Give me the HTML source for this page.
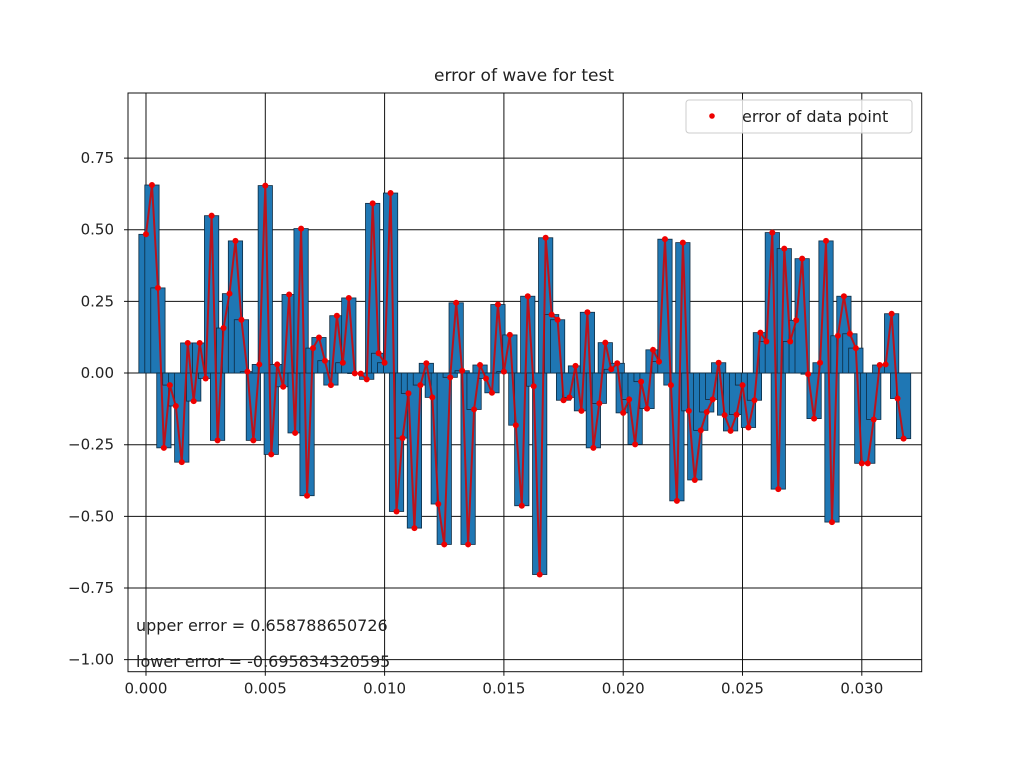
<!DOCTYPE html>
<html><head><meta charset="utf-8"><style>
body{margin:0;background:#fff}
svg text{font-family:"DejaVu Sans","Liberation Sans",sans-serif;fill:#222}
</style></head><body>
<svg id="chart" width="1024" height="768" viewBox="0 0 1024 768" xmlns="http://www.w3.org/2000/svg">
<rect width="1024" height="768" fill="#fff"/>
<text x="524" y="81" font-size="17" text-anchor="middle">error of wave for test</text>
<g id="grid"></g>
<g id="bars"></g>
<g id="line"></g>
<g id="axes"></g>
<text x="136" y="631" font-size="16">upper error = 0.658788650726</text>
<text x="136" y="667" font-size="16">lower error = -0.695834320595</text>
<g>
<rect x="686" y="100" width="226" height="33" rx="3" fill="#fff" fill-opacity="0.8" stroke="#ccc"/>
<circle cx="712" cy="116" r="2.8" fill="#e00"/>
<text x="742" y="122" font-size="16">error of data point</text>
</g>
</svg>
<script>
const values=[0.484,0.656,0.297,-0.261,-0.042,-0.115,-0.311,0.105,-0.098,0.105,-0.019,0.549,-0.235,0.157,0.277,0.461,0.186,0.005,-0.235,0.03,0.654,-0.284,0.03,-0.048,0.274,-0.209,0.504,-0.428,0.087,0.124,
0.043,-0.042,0.2,0.036,0.262,-0.001,-0.002,-0.022,0.592,0.069,0.036,0.628,-0.483,-0.227,-0.071,-0.541,-0.042,0.034,-0.085,-0.457,-0.598,-0.015,0.245,0.008,-0.598,-0.127,0.028,-0.019,-0.069,0.239,0.005,0.133,-0.182,
-0.463,0.268,-0.046,-0.703,0.472,0.204,0.186,-0.095,-0.085,0.025,-0.132,0.212,-0.261,-0.106,0.106,0.013,0.034,-0.139,-0.092,-0.249,-0.03,-0.124,0.081,0.04,0.467,-0.042,-0.446,0.455,-0.132,-0.373,
-0.2,-0.136,-0.092,0.036,-0.147,-0.202,-0.145,-0.042,-0.19,-0.095,0.141,0.11,0.49,-0.405,0.434,0.11,0.184,0.399,-0.004,-0.159,0.036,0.461,-0.52,0.13,0.268,0.137,0.087,-0.315,-0.315,-0.162,0.028,0.03,0.207,-0.089,-0.229];
const sampleStep=0.00025;
const barWidth=0.0006;
const xTicks=[0,0.005,0.010,0.015,0.020,0.025,0.030];
const xTickLabels=["0.000","0.005","0.010","0.015","0.020","0.025","0.030"];
const yTicks=[-1,-0.75,-0.5,-0.25,0,0.25,0.5,0.75];
const yTickLabels=["\u22121.00","\u22120.75","\u22120.50","\u22120.25","0.00","0.25","0.50","0.75"];

const L=128,R=921.7,T=93,B=671.7;
const xMin=-0.000754,xMax=0.03251,yMin=-1.042,yMax=0.977;
const sx=v=>L+(v-xMin)/(xMax-xMin)*(R-L);
const sy=v=>B-(v-yMin)/(yMax-yMin)*(B-T);
const NS="http://www.w3.org/2000/svg";
function mk(tag,attrs,parent){const e=document.createElementNS(NS,tag);for(const k in attrs)e.setAttribute(k,attrs[k]);parent.appendChild(e);return e;}
const grid=document.getElementById('grid'),bars=document.getElementById('bars'),line=document.getElementById('line'),axes=document.getElementById('axes');
xTicks.forEach((t,i)=>{
  const g=mk('line',{x1:sx(t),x2:sx(t),y1:T,y2:B+4,stroke:'#111','stroke-width':1},grid);
  
  
  const tx=mk('text',{x:sx(t),y:B+22,'font-size':15,'text-anchor':'middle'},axes);
  
  
  tx.textContent=xTickLabels[i];
});
yTicks.forEach((t,i)=>{
  const g=mk('line',{x1:L-4,x2:R,y1:sy(t),y2:sy(t),stroke:'#111','stroke-width':1},grid);
  
  
  const tx=mk('text',{x:L-14,y:sy(t)+5,'font-size':15,'text-anchor':'end'},axes);
  
  
  tx.textContent=yTickLabels[i];
});
values.forEach((v,i)=>{
  const x=i*sampleStep;
  const x0=sx(x-barWidth/2),x1=sx(x+barWidth/2);
  const y0=sy(Math.max(v,0)),y1=sy(Math.min(v,0));
  const b=mk('rect',{x:x0,y:y0,width:x1-x0,height:Math.max(y1-y0,0.5),fill:'#1f77b4',stroke:'#0d2a40','stroke-width':0.8},bars);
  
  
});
const pts=values.map((v,i)=>sx(i*sampleStep).toFixed(1)+','+sy(v).toFixed(1)).join(' ');
const pl=mk('polyline',{points:pts,fill:'none',stroke:'#d80000','stroke-width':2,'stroke-opacity':0.85},line);


values.forEach((v,i)=>{
  const c=mk('circle',{cx:sx(i*sampleStep),cy:sy(v),r:3,fill:'#e00'},line);
  
  
});
const fr=mk('rect',{x:L,y:T,width:R-L,height:B-T,fill:'none',stroke:'#111','stroke-width':1},axes);


</script>
</body></html>
